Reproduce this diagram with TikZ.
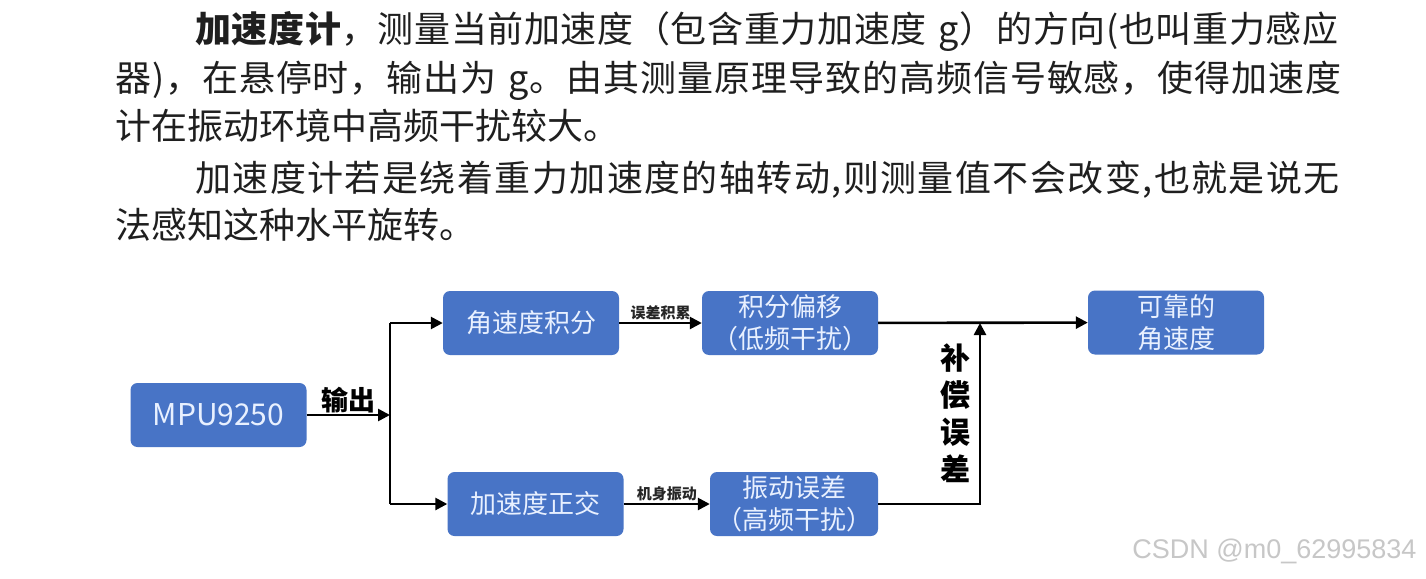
\documentclass[tikz,border=0pt]{standalone}
\usepackage{fontspec}
\setmainfont{Noto Sans CJK SC}
\newfontfamily\marca{Liberation Sans}
\usetikzlibrary{arrows.meta}

\begin{document}
\begin{tikzpicture}[x=1pt, y=-1pt,
    caja/.style={fill=azulcaja, rounded corners=7pt, minimum width=176pt,
        minimum height=64pt, inner sep=0pt, text=textocaja, align=center,
        font=\fontsize{26}{32}\selectfont},
    flecha/.style={line width=2.6pt, -{Triangle[length=12pt, width=12pt]}},
    linea/.style={line width=2.6pt},
    etiq/.style={font=\fontsize{15}{17}\selectfont\bfseries, text=black!85, inner sep=2pt},
    parrafo/.style={font=\fontsize{36}{40}\selectfont, text=black!88, inner sep=0pt, anchor=base west}]
    % --- Colores ---
    \definecolor{azulcaja}{HTML}{4874C6}
    \definecolor{textocaja}{HTML}{E8F0FF}

    % --- Marco de la imagen ---
    \fill[white] (0,0) rectangle (1426,578);
    \useasboundingbox (0,0) rectangle (1426,578);

    % --- Texto superior ---
    \node[parrafo] (lin1) at (195,43) {\addfontfeature{LetterSpace=1.8}{\bfseries\addfontfeature{LetterSpace=1.8}加速度计}，测量当前加速度（包含重力加速度\hspace{12pt}g）的方向(也叫重力感应};
    \node[parrafo] (lin2) at (115,91) {\addfontfeature{LetterSpace=2.6}器)，在悬停时，输出为\hspace{12pt}g。由其测量原理导致的高频信号敏感，使得加速度};
    \node[parrafo] (lin3) at (115,139) {计在振动环境中高频干扰较大。};
    \node[parrafo] (lin4) at (195,191) {\addfontfeature{LetterSpace=4.0}加速度计若是绕着重力加速度的轴转动,则测量值不会改变,也就是说无};
    \node[parrafo] (lin5) at (115,238) {法感知这种水平旋转。};

    % --- Cajas ---
    \node[caja, font=\fontsize{30}{34}\selectfont] (mpu) at (218.5,415) {MPU9250};
    \node[caja] (angint) at (531,323) {角速度积分};
    \node[caja] (derint) at (790,323) {积分偏移\\（低频干扰）};
    \node[caja] (acelort) at (535.5,504) {加速度正交};
    \node[caja, minimum width=168pt] (errvib) at (794,504) {振动误差\\（高频干扰）};
    \node[caja] (angfiable) at (1176,322.5) {可靠的\\角速度};

    % --- Salida del MPU9250 y bifurcacion ---
    \coordinate (bif) at (390,415);
    \draw[flecha] (mpu.east) -- node[above, font=\fontsize{27}{30}\selectfont\bfseries, inner sep=1pt] {输出} (bif);
    \draw[linea] (bif |- angint.west) -- (bif |- acelort.west);
    \draw[flecha] (bif |- angint.west) -- (angint.west);
    \draw[flecha] (bif |- acelort.west) -- (acelort.west);

    % --- Ramas superior e inferior ---
    \draw[flecha] (angint) -- node[etiq, above] {误差积累} (derint);
    \draw[flecha] (acelort) -- node[etiq, above] {机身振动} (errvib);
    \draw[flecha] (derint) -- (angfiable);

    % --- Compensacion ---
    \coordinate (comp) at (980,323);
    \draw[flecha] (errvib.east) -| (comp);
    \node[font=\fontsize{30}{37}\selectfont\bfseries, align=center] (compens) at (955,413) {补\\偿\\误\\差};

    % --- Marca de agua ---
    \node[font=\marca\fontsize{27}{30}\selectfont, text=black!22, anchor=east] (marca) at (1420,551) {CSDN @m0\_62995834};
\end{tikzpicture}
\end{document}
